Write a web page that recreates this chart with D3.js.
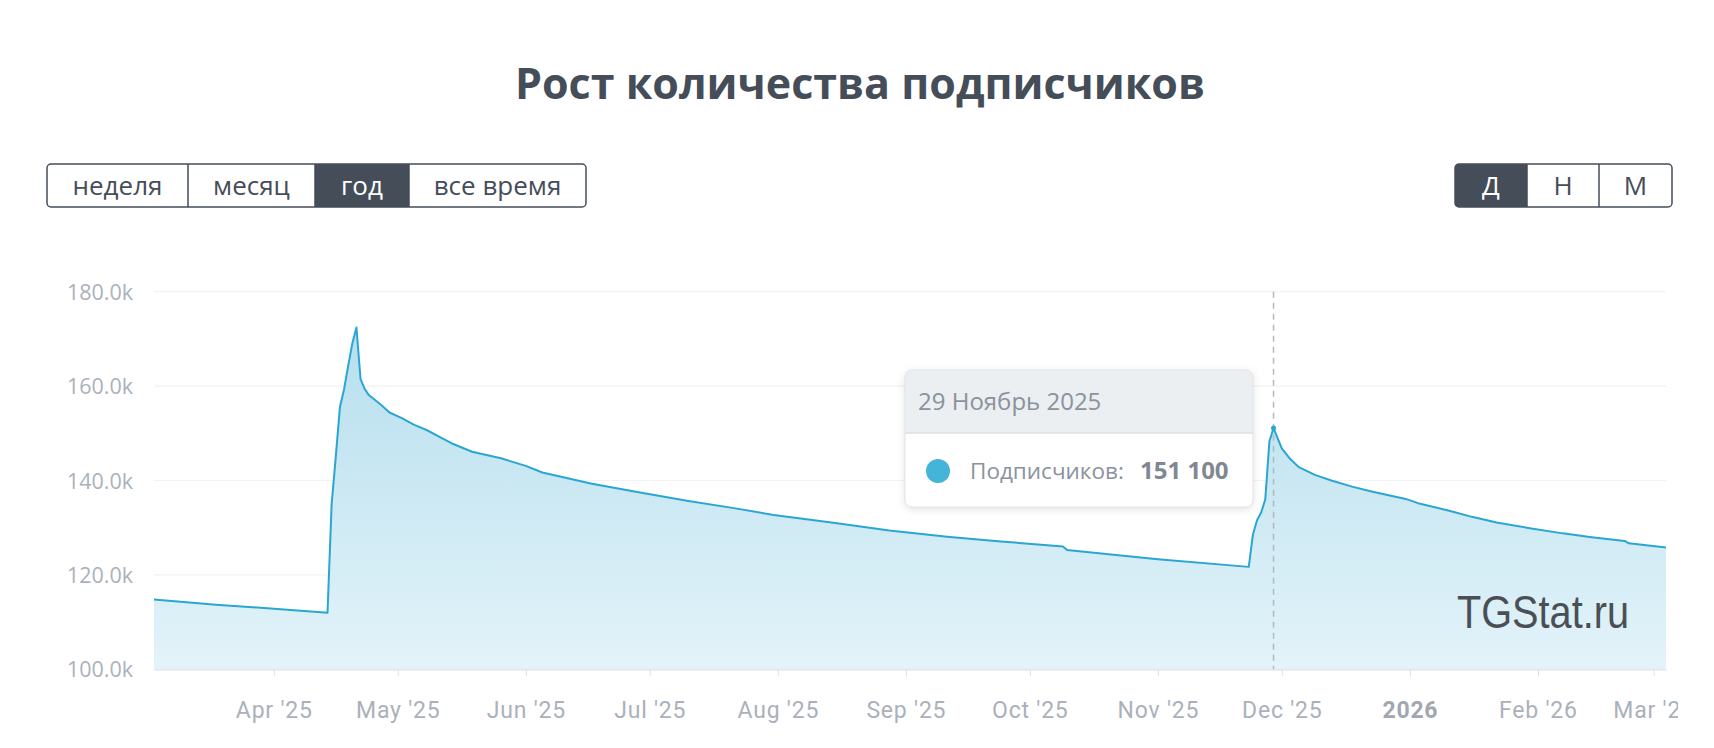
<!DOCTYPE html>
<html><head><meta charset="utf-8">
<script src="https://cdn.jsdelivr.net/npm/d3@7"></script>
<style>
html,body{margin:0;padding:0;background:#fff;}
svg{display:block;}
</style></head><body>
<svg id="chart" width="1714" height="748"></svg>
<script>
// ---------- DATA ----------
const chartTitle = "Рост количества подписчиков";
const dates = [
"2025-03-03","2025-03-18","2025-04-14","2025-04-15","2025-04-16","2025-04-17","2025-04-18",
"2025-04-19","2025-04-20","2025-04-21","2025-04-22","2025-04-23","2025-04-24","2025-04-27",
"2025-04-29","2025-05-02","2025-05-05","2025-05-08","2025-05-11","2025-05-14","2025-05-19",
"2025-05-26","2025-06-01","2025-06-05","2025-06-17","2025-06-29","2025-07-10","2025-07-21",
"2025-07-31","2025-08-14","2025-08-28","2025-09-11","2025-09-24","2025-10-09","2025-10-10",
"2025-11-01","2025-11-23","2025-11-24","2025-11-25","2025-11-26","2025-11-27","2025-11-28",
"2025-11-29","2025-11-30","2025-12-01","2025-12-03","2025-12-05","2025-12-09","2025-12-13",
"2025-12-18","2025-12-23","2025-12-31","2026-01-03","2026-01-11","2026-01-16","2026-01-22",
"2026-01-30","2026-02-07","2026-02-14","2026-02-22","2026-02-23","2026-03-04"];
const subscribers = [
114800,113700,112000,135000,145000,155500,159300,
164300,169000,172400,161500,159400,158100,156000,
154400,153200,151800,150700,149300,147900,146100,
144700,143100,141700,139300,137400,135700,134200,
132700,131100,129400,128100,127100,126000,125300,
123300,121700,128500,131600,133200,136000,148300,
151100,148900,146800,144600,142900,141200,140000,
138700,137600,136100,135200,133500,132300,131100,
129900,128800,128000,127200,126700,125800];
const yTickValues = [100000,120000,140000,160000,180000];
const xTickDates = ["2025-04-01","2025-05-01","2025-06-01","2025-07-01","2025-08-01","2025-09-01",
"2025-10-01","2025-11-01","2025-12-01","2026-01-01","2026-02-01","2026-03-01"];
const xTickLabels = ["Apr '25","May '25","Jun '25","Jul '25","Aug '25","Sep '25",
"Oct '25","Nov '25","Dec '25","2026","Feb '26","Mar '26"];
const periodButtons = ["неделя","месяц","год","все время"];
const periodActive = "год";
const granularityButtons = ["Д","Н","М"];
const granularityActive = "Д";
const tooltipDate = "2025-11-29";
const tooltipDateLabel = "29 Ноябрь 2025";
const tooltipSeriesLabel = "Подписчиков:";
const watermark = "TGStat.ru";

(function(){
const svg = d3.select("#chart");
const parse = d3.utcParse("%Y-%m-%d");
const data = dates.map((d,i)=>({date:parse(d), value:subscribers[i]}));

const pL = 154, pR = 1666, pT = 291.7, pB = 669.3;
const x = d3.scaleUtc().domain([parse("2025-03-03"), parse("2026-03-04")]).range([pL, pR]);
const y = d3.scaleLinear().domain([100000,180000]).range([pB, pT]);

const dark = "#454d59";
const lineColor = "#2aa6d2";
const defs = svg.append("defs");

// Title
svg.append("text").attr("x", 860).attr("y", 99).attr("text-anchor","middle")
  .attr("font-family","'Open Sans', sans-serif").attr("font-weight",700)
  .attr("font-size",43).attr("fill",dark).text(chartTitle);

// Button groups
function buttonGroup(id, labels, active, edges, fontSize){
  const g = svg.append("g");
  const y0 = 164, h = 43;
  const cp = defs.append("clipPath").attr("id",id);
  cp.append("rect").attr("x",edges[0]).attr("y",y0).attr("width",edges[edges.length-1]-edges[0])
    .attr("height",h).attr("rx",4);
  labels.forEach((lab,i)=>{
    const x0 = edges[i], x1 = edges[i+1];
    if(lab===active){
      g.append("rect").attr("x",x0).attr("y",y0).attr("width",x1-x0).attr("height",h)
        .attr("fill",dark).attr("clip-path",`url(#${id})`);
    }
    g.append("text").attr("x",(x0+x1)/2).attr("y",y0+h/2+9).attr("text-anchor","middle")
      .attr("font-family","'Open Sans', sans-serif").attr("font-size",fontSize)
      .attr("fill", lab===active ? "#fff" : dark).text(lab);
    if(i>0){
      g.append("line").attr("x1",x0).attr("x2",x0).attr("y1",y0).attr("y2",y0+h)
        .attr("stroke",dark).attr("stroke-width",1.5);
    }
  });
  g.append("rect").attr("x",edges[0]).attr("y",y0).attr("width",edges[edges.length-1]-edges[0])
    .attr("height",h).attr("rx",4).attr("fill","none").attr("stroke",dark).attr("stroke-width",1.5);
  return g;
}
buttonGroup("bclip1", periodButtons, periodActive, [47,188,315,409,586], 26);
buttonGroup("bclip2", granularityButtons, granularityActive, [1455,1527,1599,1672], 26);

// Gridlines
svg.append("g").selectAll("line").data(yTickValues.slice(1)).join("line")
  .attr("x1",pL).attr("x2",pR).attr("y1",d=>y(d)).attr("y2",d=>y(d))
  .attr("stroke","#f1f2f5").attr("stroke-width",1.2);

// Y axis
const yAxis = svg.append("g").attr("transform",`translate(${pL},0)`)
  .call(d3.axisLeft(y).tickValues(yTickValues).tickSize(0).tickPadding(21)
    .tickFormat(d=>(d/1000).toFixed(1)+"k"));
yAxis.select(".domain").remove();
yAxis.selectAll("text").attr("font-family","'Open Sans', sans-serif").attr("font-size",21.5)
  .attr("fill","#aab1bb").attr("dy","0.35em");

// Area gradient
const grad = defs.append("linearGradient").attr("id","areaGrad").attr("gradientUnits","userSpaceOnUse")
  .attr("x1",0).attr("x2",0).attr("y1",pT).attr("y2",pB);
grad.append("stop").attr("offset",0).attr("stop-color","#b1dded");
grad.append("stop").attr("offset",1).attr("stop-color","#e3f3f9");

const area = d3.area().x(d=>x(d.date)).y0(pB).y1(d=>y(d.value));
const line = d3.line().x(d=>x(d.date)).y(d=>y(d.value));
svg.append("path").datum(data).attr("d",area).attr("fill","url(#areaGrad)");
svg.append("path").datum(data).attr("d",line).attr("fill","none")
  .attr("stroke",lineColor).attr("stroke-width",2).attr("stroke-linejoin","round");

// X axis
const clip = defs.append("clipPath").attr("id","xclip");
clip.append("rect").attr("x",0).attr("y",0).attr("width",1678).attr("height",748);
const xAxis = svg.append("g").attr("transform",`translate(0,${pB})`).attr("clip-path","url(#xclip)")
  .call(d3.axisBottom(x).tickValues(xTickDates.map(parse)).tickSize(7).tickSizeOuter(0).tickPadding(25)
    .tickFormat((d,i)=>xTickLabels[i]));
xAxis.select(".domain").attr("stroke","#e0e0e0").attr("stroke-width",1.5);
xAxis.selectAll(".tick line").attr("stroke","#e0e0e0");
xAxis.selectAll("text").attr("font-family","Roboto, sans-serif").attr("font-size",23)
  .attr("letter-spacing",0.8)
  .attr("font-weight",(d,i)=> xTickLabels[i].indexOf("'")<0 ? 700 : 400)
  .attr("fill",(d,i)=> xTickLabels[i].indexOf("'")<0 ? "#a0a7b1" : "#aab1bb");

// Watermark
svg.append("text").attr("x",1457).attr("y",628).attr("font-family","'Liberation Sans', Arial, sans-serif")
  .attr("font-size",46).attr("textLength",172).attr("lengthAdjust","spacingAndGlyphs")
  .attr("fill","#4a4f56").text(watermark);

// Crosshair + marker
const tipD = data.find(d=>+d.date===+parse(tooltipDate));
svg.append("line").attr("x1",x(tipD.date)).attr("x2",x(tipD.date)).attr("y1",pT).attr("y2",pB)
  .attr("stroke","#b4b9bf").attr("stroke-width",1.5).attr("stroke-dasharray","6,5");
svg.append("circle").attr("cx",x(tipD.date)).attr("cy",y(tipD.value)).attr("r",2.5).attr("fill",lineColor);

// Tooltip
const fmt = d3.formatLocale({decimal:",",thousands:"\u00a0",grouping:[3],currency:["",""]}).format(",d");
const filt = defs.append("filter").attr("id","shadow").attr("x","-20%").attr("y","-20%").attr("width","140%").attr("height","150%");
filt.append("feDropShadow").attr("dx",0).attr("dy",2).attr("stdDeviation",4).attr("flood-color","#000").attr("flood-opacity",0.12);
const tx = 905, ty = 370, tw = 348, th = 137;
const tg = svg.append("g");
tg.append("rect").attr("x",tx).attr("y",ty).attr("width",tw).attr("height",th).attr("rx",7)
  .attr("fill","#fff").attr("filter","url(#shadow)");
const hclip = defs.append("clipPath").attr("id","hclip");
hclip.append("rect").attr("x",tx).attr("y",ty).attr("width",tw).attr("height",th).attr("rx",7);
tg.append("rect").attr("x",tx).attr("y",ty).attr("width",tw).attr("height",63).attr("fill","#eceff1")
  .attr("clip-path","url(#hclip)");
tg.append("line").attr("x1",tx).attr("x2",tx+tw).attr("y1",ty+63).attr("y2",ty+63).attr("stroke","#dcdfe2").attr("stroke-width",1.5);
tg.append("rect").attr("x",tx).attr("y",ty).attr("width",tw).attr("height",th).attr("rx",7)
  .attr("fill","none").attr("stroke","#e3e3e3");
tg.append("text").attr("x",918).attr("y",410).attr("font-family","'Open Sans', sans-serif")
  .attr("font-size",24).attr("fill","#8a929c").text(tooltipDateLabel);
tg.append("circle").attr("cx",938).attr("cy",471).attr("r",12).attr("fill","#45b4d9");
tg.append("text").attr("x",970).attr("y",479).attr("font-family","'Open Sans', sans-serif")
  .attr("font-size",22.5).attr("fill","#8a929c").text(tooltipSeriesLabel);
tg.append("text").attr("x",1140).attr("y",479).attr("font-family","'Open Sans', sans-serif")
  .attr("font-size",24).attr("font-weight",700).attr("fill","#7f8792").text(fmt(tipD.value));
})();
</script>
</body></html>
